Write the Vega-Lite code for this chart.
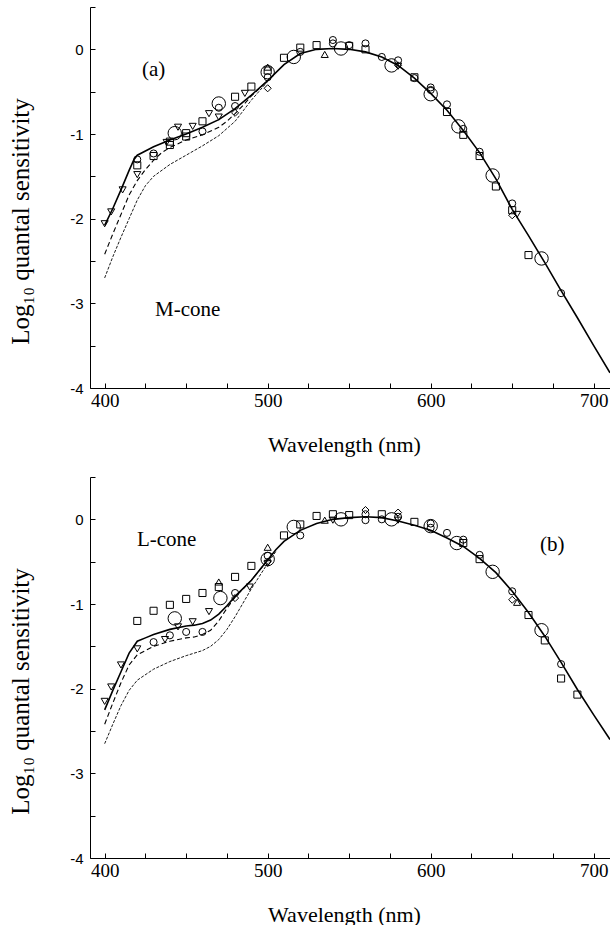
{
  "$schema": "https://vega.github.io/schema/vega-lite/v6.json",
  "padding": {"left": 8, "top": 0, "right": 0, "bottom": 0},
  "bounds": "flush",
  "spacing": 89,
  "background": "white",
  "config": {
    "view": {"stroke": null},
    "font": "Liberation Serif",
    "axis": {
      "grid": false,
      "domainColor": "black",
      "domainWidth": 1,
      "tickColor": "black",
      "tickWidth": 1,
      "labelColor": "black",
      "titleColor": "black",
      "titleFontWeight": "normal",
      "labelFlush": false,
      "labelOverlap": false
    }
  },
  "datasets": {
    "curA": [
      {"wl": 400, "v": -2.08, "c": "solid"}, {"wl": 405, "v": -1.88, "c": "solid"}, {"wl": 410, "v": -1.66, "c": "solid"}, {"wl": 415, "v": -1.43, "c": "solid"}, {"wl": 418, "v": -1.3, "c": "solid"}, {"wl": 420, "v": -1.25, "c": "solid"}, {"wl": 425, "v": -1.2, "c": "solid"}, {"wl": 430, "v": -1.15, "c": "solid"}, {"wl": 440, "v": -1.07, "c": "solid"}, {"wl": 450, "v": -1.0, "c": "solid"}, {"wl": 460, "v": -0.92, "c": "solid"}, {"wl": 470, "v": -0.83, "c": "solid"}, {"wl": 480, "v": -0.7, "c": "solid"}, {"wl": 490, "v": -0.54, "c": "solid"}, {"wl": 500, "v": -0.37, "c": "solid"}, {"wl": 510, "v": -0.18, "c": "solid"}, {"wl": 520, "v": -0.05, "c": "solid"}, {"wl": 530, "v": 0.0, "c": "solid"}, {"wl": 540, "v": 0.01, "c": "solid"}, {"wl": 550, "v": 0.0, "c": "solid"}, {"wl": 560, "v": -0.03, "c": "solid"}, {"wl": 570, "v": -0.09, "c": "solid"}, {"wl": 580, "v": -0.19, "c": "solid"}, {"wl": 590, "v": -0.34, "c": "solid"}, {"wl": 600, "v": -0.52, "c": "solid"}, {"wl": 610, "v": -0.72, "c": "solid"}, {"wl": 620, "v": -0.96, "c": "solid"}, {"wl": 630, "v": -1.22, "c": "solid"}, {"wl": 640, "v": -1.53, "c": "solid"}, {"wl": 650, "v": -1.89, "c": "solid"}, {"wl": 660, "v": -2.2, "c": "solid"}, {"wl": 670, "v": -2.52, "c": "solid"}, {"wl": 680, "v": -2.85, "c": "solid"}, {"wl": 690, "v": -3.17, "c": "solid"}, {"wl": 700, "v": -3.5, "c": "solid"}, {"wl": 710, "v": -3.82, "c": "solid"},
      {"wl": 400, "v": -2.42, "c": "dashed"}, {"wl": 405, "v": -2.18, "c": "dashed"}, {"wl": 410, "v": -1.95, "c": "dashed"}, {"wl": 415, "v": -1.72, "c": "dashed"}, {"wl": 420, "v": -1.55, "c": "dashed"}, {"wl": 425, "v": -1.42, "c": "dashed"}, {"wl": 430, "v": -1.31, "c": "dashed"}, {"wl": 435, "v": -1.22, "c": "dashed"}, {"wl": 440, "v": -1.16, "c": "dashed"}, {"wl": 450, "v": -1.07, "c": "dashed"}, {"wl": 460, "v": -1.01, "c": "dashed"}, {"wl": 470, "v": -0.92, "c": "dashed"}, {"wl": 475, "v": -0.85, "c": "dashed"}, {"wl": 480, "v": -0.76, "c": "dashed"}, {"wl": 485, "v": -0.66, "c": "dashed"}, {"wl": 490, "v": -0.55, "c": "dashed"}, {"wl": 500, "v": -0.37, "c": "dashed"},
      {"wl": 400, "v": -2.7, "c": "dotted"}, {"wl": 405, "v": -2.45, "c": "dotted"}, {"wl": 410, "v": -2.22, "c": "dotted"}, {"wl": 415, "v": -2.0, "c": "dotted"}, {"wl": 420, "v": -1.78, "c": "dotted"}, {"wl": 425, "v": -1.61, "c": "dotted"}, {"wl": 430, "v": -1.5, "c": "dotted"}, {"wl": 440, "v": -1.36, "c": "dotted"}, {"wl": 450, "v": -1.25, "c": "dotted"}, {"wl": 460, "v": -1.14, "c": "dotted"}, {"wl": 470, "v": -1.02, "c": "dotted"}, {"wl": 480, "v": -0.85, "c": "dotted"}, {"wl": 490, "v": -0.6, "c": "dotted"}, {"wl": 500, "v": -0.38, "c": "dotted"}
    ],
    "curB": [
      {"wl": 400, "v": -2.25, "c": "solid"}, {"wl": 405, "v": -2.02, "c": "solid"}, {"wl": 410, "v": -1.8, "c": "solid"}, {"wl": 415, "v": -1.58, "c": "solid"}, {"wl": 420, "v": -1.44, "c": "solid"}, {"wl": 425, "v": -1.4, "c": "solid"}, {"wl": 430, "v": -1.36, "c": "solid"}, {"wl": 440, "v": -1.3, "c": "solid"}, {"wl": 450, "v": -1.26, "c": "solid"}, {"wl": 455, "v": -1.25, "c": "solid"}, {"wl": 460, "v": -1.23, "c": "solid"}, {"wl": 465, "v": -1.19, "c": "solid"}, {"wl": 470, "v": -1.12, "c": "solid"}, {"wl": 475, "v": -1.02, "c": "solid"}, {"wl": 480, "v": -0.91, "c": "solid"}, {"wl": 490, "v": -0.72, "c": "solid"}, {"wl": 500, "v": -0.48, "c": "solid"}, {"wl": 505, "v": -0.36, "c": "solid"}, {"wl": 510, "v": -0.26, "c": "solid"}, {"wl": 520, "v": -0.13, "c": "solid"}, {"wl": 530, "v": -0.05, "c": "solid"}, {"wl": 540, "v": 0.0, "c": "solid"}, {"wl": 550, "v": 0.02, "c": "solid"}, {"wl": 560, "v": 0.03, "c": "solid"}, {"wl": 570, "v": 0.02, "c": "solid"}, {"wl": 580, "v": -0.02, "c": "solid"}, {"wl": 590, "v": -0.07, "c": "solid"}, {"wl": 600, "v": -0.13, "c": "solid"}, {"wl": 610, "v": -0.22, "c": "solid"}, {"wl": 620, "v": -0.32, "c": "solid"}, {"wl": 630, "v": -0.46, "c": "solid"}, {"wl": 640, "v": -0.63, "c": "solid"}, {"wl": 650, "v": -0.85, "c": "solid"}, {"wl": 660, "v": -1.1, "c": "solid"}, {"wl": 670, "v": -1.38, "c": "solid"}, {"wl": 680, "v": -1.69, "c": "solid"}, {"wl": 690, "v": -2.01, "c": "solid"}, {"wl": 700, "v": -2.31, "c": "solid"}, {"wl": 710, "v": -2.6, "c": "solid"},
      {"wl": 400, "v": -2.42, "c": "dashed"}, {"wl": 405, "v": -2.17, "c": "dashed"}, {"wl": 410, "v": -1.93, "c": "dashed"}, {"wl": 415, "v": -1.72, "c": "dashed"}, {"wl": 420, "v": -1.6, "c": "dashed"}, {"wl": 425, "v": -1.55, "c": "dashed"}, {"wl": 430, "v": -1.5, "c": "dashed"}, {"wl": 440, "v": -1.44, "c": "dashed"}, {"wl": 450, "v": -1.4, "c": "dashed"}, {"wl": 455, "v": -1.39, "c": "dashed"}, {"wl": 460, "v": -1.36, "c": "dashed"}, {"wl": 465, "v": -1.31, "c": "dashed"}, {"wl": 470, "v": -1.2, "c": "dashed"}, {"wl": 475, "v": -1.05, "c": "dashed"}, {"wl": 480, "v": -0.92, "c": "dashed"}, {"wl": 490, "v": -0.72, "c": "dashed"}, {"wl": 500, "v": -0.48, "c": "dashed"},
      {"wl": 400, "v": -2.65, "c": "dotted"}, {"wl": 405, "v": -2.42, "c": "dotted"}, {"wl": 410, "v": -2.2, "c": "dotted"}, {"wl": 415, "v": -2.02, "c": "dotted"}, {"wl": 420, "v": -1.9, "c": "dotted"}, {"wl": 430, "v": -1.77, "c": "dotted"}, {"wl": 440, "v": -1.68, "c": "dotted"}, {"wl": 450, "v": -1.61, "c": "dotted"}, {"wl": 460, "v": -1.55, "c": "dotted"}, {"wl": 465, "v": -1.5, "c": "dotted"}, {"wl": 470, "v": -1.42, "c": "dotted"}, {"wl": 475, "v": -1.3, "c": "dotted"}, {"wl": 480, "v": -1.15, "c": "dotted"}, {"wl": 490, "v": -0.82, "c": "dotted"}, {"wl": 500, "v": -0.52, "c": "dotted"}, {"wl": 505, "v": -0.38, "c": "dotted"}
    ],
    "ptsA": [
      {"wl": 400, "v": -2.06, "sym": "td"}, {"wl": 404, "v": -1.92, "sym": "td"}, {"wl": 411, "v": -1.66, "sym": "td"}, {"wl": 420, "v": -1.3, "sym": "o"}, {"wl": 420, "v": -1.37, "sym": "s"}, {"wl": 420, "v": -1.48, "sym": "td"},
      {"wl": 430, "v": -1.23, "sym": "o"}, {"wl": 430, "v": -1.26, "sym": "s"}, {"wl": 438, "v": -1.1, "sym": "td"}, {"wl": 440, "v": -1.09, "sym": "s"}, {"wl": 440, "v": -1.13, "sym": "s"}, {"wl": 443, "v": -0.99, "sym": "O"}, {"wl": 445, "v": -0.92, "sym": "td"},
      {"wl": 450, "v": -1.03, "sym": "s"}, {"wl": 450, "v": -0.99, "sym": "s"}, {"wl": 454, "v": -0.91, "sym": "td"}, {"wl": 460, "v": -0.97, "sym": "o"}, {"wl": 460, "v": -0.85, "sym": "s"}, {"wl": 464, "v": -0.76, "sym": "td"},
      {"wl": 470, "v": -0.64, "sym": "O"}, {"wl": 470, "v": -0.69, "sym": "o"}, {"wl": 470, "v": -0.8, "sym": "td"}, {"wl": 480, "v": -0.56, "sym": "s"}, {"wl": 480, "v": -0.67, "sym": "o"}, {"wl": 480, "v": -0.75, "sym": "d"}, {"wl": 486, "v": -0.52, "sym": "td"}, {"wl": 490, "v": -0.44, "sym": "s"},
      {"wl": 500, "v": -0.21, "sym": "tu"}, {"wl": 500, "v": -0.27, "sym": "O"}, {"wl": 500, "v": -0.25, "sym": "s"}, {"wl": 500, "v": -0.33, "sym": "o"}, {"wl": 500, "v": -0.46, "sym": "d"},
      {"wl": 510, "v": -0.1, "sym": "s"}, {"wl": 516, "v": -0.09, "sym": "O"}, {"wl": 520, "v": 0.02, "sym": "s"}, {"wl": 520, "v": -0.03, "sym": "o"}, {"wl": 530, "v": 0.05, "sym": "s"}, {"wl": 535, "v": -0.06, "sym": "tu"},
      {"wl": 540, "v": 0.11, "sym": "o"}, {"wl": 540, "v": 0.07, "sym": "o"}, {"wl": 545, "v": 0.01, "sym": "O"}, {"wl": 550, "v": 0.05, "sym": "o"}, {"wl": 550, "v": 0.04, "sym": "s"}, {"wl": 560, "v": 0.07, "sym": "o"}, {"wl": 560, "v": 0.0, "sym": "s"},
      {"wl": 570, "v": -0.09, "sym": "o"}, {"wl": 576, "v": -0.19, "sym": "O"}, {"wl": 580, "v": -0.13, "sym": "o"}, {"wl": 580, "v": -0.2, "sym": "td"}, {"wl": 580, "v": -0.19, "sym": "d"}, {"wl": 590, "v": -0.34, "sym": "o"}, {"wl": 590, "v": -0.33, "sym": "s"},
      {"wl": 600, "v": -0.45, "sym": "o"}, {"wl": 600, "v": -0.48, "sym": "o"}, {"wl": 600, "v": -0.53, "sym": "O"}, {"wl": 610, "v": -0.65, "sym": "o"}, {"wl": 610, "v": -0.74, "sym": "s"},
      {"wl": 617, "v": -0.91, "sym": "O"}, {"wl": 620, "v": -0.94, "sym": "o"}, {"wl": 620, "v": -1.01, "sym": "s"}, {"wl": 630, "v": -1.21, "sym": "o"}, {"wl": 630, "v": -1.26, "sym": "s"},
      {"wl": 638, "v": -1.49, "sym": "O"}, {"wl": 640, "v": -1.62, "sym": "s"}, {"wl": 650, "v": -1.82, "sym": "o"}, {"wl": 650, "v": -1.9, "sym": "s"}, {"wl": 653, "v": -1.95, "sym": "td"}, {"wl": 650, "v": -1.96, "sym": "d"},
      {"wl": 660, "v": -2.43, "sym": "s"}, {"wl": 668, "v": -2.47, "sym": "O"}, {"wl": 680, "v": -2.88, "sym": "o"}
    ],
    "ptsB": [
      {"wl": 400, "v": -2.15, "sym": "td"}, {"wl": 404, "v": -1.98, "sym": "td"}, {"wl": 410, "v": -1.72, "sym": "td"}, {"wl": 420, "v": -1.53, "sym": "td"}, {"wl": 420, "v": -1.2, "sym": "s"},
      {"wl": 430, "v": -1.08, "sym": "s"}, {"wl": 430, "v": -1.45, "sym": "o"}, {"wl": 437, "v": -1.42, "sym": "td"}, {"wl": 440, "v": -1.01, "sym": "s"}, {"wl": 440, "v": -1.37, "sym": "o"}, {"wl": 443, "v": -1.17, "sym": "O"}, {"wl": 445, "v": -1.27, "sym": "td"},
      {"wl": 450, "v": -0.94, "sym": "s"}, {"wl": 450, "v": -1.33, "sym": "o"}, {"wl": 454, "v": -1.21, "sym": "td"}, {"wl": 460, "v": -0.87, "sym": "s"}, {"wl": 460, "v": -1.33, "sym": "o"}, {"wl": 464, "v": -1.09, "sym": "td"},
      {"wl": 470, "v": -0.8, "sym": "s"}, {"wl": 470, "v": -0.74, "sym": "tu"}, {"wl": 471, "v": -0.93, "sym": "O"}, {"wl": 480, "v": -0.68, "sym": "s"}, {"wl": 480, "v": -0.87, "sym": "o"}, {"wl": 480, "v": -0.93, "sym": "d"}, {"wl": 489, "v": -0.8, "sym": "td"}, {"wl": 490, "v": -0.55, "sym": "s"},
      {"wl": 500, "v": -0.33, "sym": "tu"}, {"wl": 500, "v": -0.43, "sym": "o"}, {"wl": 500, "v": -0.47, "sym": "O"}, {"wl": 500, "v": -0.5, "sym": "d"}, {"wl": 500, "v": -0.52, "sym": "td"},
      {"wl": 510, "v": -0.19, "sym": "s"}, {"wl": 516, "v": -0.09, "sym": "O"}, {"wl": 520, "v": -0.06, "sym": "s"}, {"wl": 520, "v": -0.19, "sym": "o"}, {"wl": 530, "v": 0.04, "sym": "s"}, {"wl": 535, "v": -0.01, "sym": "tu"},
      {"wl": 540, "v": -0.01, "sym": "td"}, {"wl": 540, "v": 0.06, "sym": "s"}, {"wl": 545, "v": 0.0, "sym": "O"}, {"wl": 550, "v": 0.05, "sym": "s"}, {"wl": 560, "v": 0.11, "sym": "d"}, {"wl": 560, "v": 0.06, "sym": "o"}, {"wl": 560, "v": -0.01, "sym": "o"},
      {"wl": 570, "v": 0.06, "sym": "s"}, {"wl": 570, "v": 0.0, "sym": "o"}, {"wl": 576, "v": 0.0, "sym": "O"}, {"wl": 580, "v": 0.08, "sym": "d"}, {"wl": 580, "v": 0.03, "sym": "o"}, {"wl": 580, "v": -0.01, "sym": "td"}, {"wl": 590, "v": -0.03, "sym": "s"},
      {"wl": 600, "v": -0.05, "sym": "o"}, {"wl": 600, "v": -0.1, "sym": "o"}, {"wl": 600, "v": -0.08, "sym": "O"}, {"wl": 610, "v": -0.16, "sym": "o"}, {"wl": 616, "v": -0.28, "sym": "O"}, {"wl": 620, "v": -0.24, "sym": "o"}, {"wl": 620, "v": -0.28, "sym": "s"},
      {"wl": 630, "v": -0.42, "sym": "o"}, {"wl": 630, "v": -0.47, "sym": "s"}, {"wl": 638, "v": -0.62, "sym": "O"}, {"wl": 650, "v": -0.85, "sym": "o"}, {"wl": 650, "v": -0.95, "sym": "d"}, {"wl": 653, "v": -0.98, "sym": "tu"},
      {"wl": 660, "v": -1.13, "sym": "s"}, {"wl": 668, "v": -1.31, "sym": "O"}, {"wl": 670, "v": -1.43, "sym": "s"}, {"wl": 680, "v": -1.71, "sym": "o"}, {"wl": 680, "v": -1.88, "sym": "s"}, {"wl": 690, "v": -2.07, "sym": "s"}
    ]
  },
  "vconcat": [
    {
      "width": 520,
      "height": 381,
      "encoding": {
        "x": {"field": "wl", "type": "quantitative", "scale": {"domain": [391, 710], "nice": false, "zero": false},
          "axis": {"title": "Wavelength (nm)", "values": [400, 425, 450, 475, 500, 525, 550, 575, 600, 625, 650, 675, 700], "labelExpr": "datum.value % 100 === 0 ? datum.label : ''", "tickSize": -5, "labelPadding": 8, "labelFont": "Liberation Serif", "labelFontSize": 19, "titleFont": "Liberation Serif", "titleFontSize": 22, "titlePadding": 24, "titleX": 254}},
        "y": {"field": "v", "type": "quantitative", "scale": {"domain": [-4, 0.5], "nice": false, "zero": false},
          "axis": {"title": "Log₁₀ quantal sensitivity", "values": [-4, -3.5, -3, -2.5, -2, -1.5, -1, -0.5, 0, 0.5], "labelExpr": "datum.value % 1 === 0 ? toString(datum.value) : ''", "tickSize": -5, "labelPadding": 12, "labelFont": "Liberation Sans", "labelFontSize": 15, "titleFont": "Liberation Serif", "titleFontSize": 25, "titleX": -57, "titleY": 214}}
      },
      "layer": [
        {"data": {"name": "curA"}, "transform": [{"filter": "datum.c === 'solid'"}], "mark": {"type": "line", "clip": true, "color": "black", "strokeWidth": 1.6}},
        {"data": {"name": "curA"}, "transform": [{"filter": "datum.c === 'dashed'"}], "mark": {"type": "line", "clip": true, "color": "black", "strokeWidth": 1.1, "strokeDash": [5, 3]}},
        {"data": {"name": "curA"}, "transform": [{"filter": "datum.c === 'dotted'"}], "mark": {"type": "line", "clip": true, "color": "black", "strokeWidth": 0.9, "strokeDash": [3, 1.5]}},
        {"data": {"name": "ptsA"}, "transform": [{"filter": "datum.sym !== 'O'"}], "mark": {"type": "point", "filled": false, "color": "black", "strokeWidth": 1, "opacity": 1, "size": 50, "clip": true},
          "encoding": {"shape": {"field": "sym", "type": "nominal", "scale": {"domain": ["o", "s", "tu", "td", "d"], "range": ["circle", "square", "triangle-up", "triangle-down", "diamond"]}, "legend": null}}},
        {"data": {"name": "ptsA"}, "transform": [{"filter": "datum.sym === 'O'"}], "mark": {"type": "point", "shape": "circle", "filled": false, "color": "black", "strokeWidth": 1, "opacity": 1, "size": 180, "clip": true}},
        {"data": {"values": [{"wl": 422.9, "v": -0.24, "t": "(a)"}, {"wl": 430.9, "v": -3.08, "t": "M-cone"}]}, "mark": {"type": "text", "align": "left", "baseline": "middle", "font": "Liberation Serif", "fontSize": 21, "color": "black"}, "encoding": {"text": {"field": "t"}}}
      ]
    },
    {
      "width": 520,
      "height": 381,
      "encoding": {
        "x": {"field": "wl", "type": "quantitative", "scale": {"domain": [391, 710], "nice": false, "zero": false},
          "axis": {"title": "Wavelength (nm)", "values": [400, 425, 450, 475, 500, 525, 550, 575, 600, 625, 650, 675, 700], "labelExpr": "datum.value % 100 === 0 ? datum.label : ''", "tickSize": -5, "labelPadding": 8, "labelFont": "Liberation Serif", "labelFontSize": 19, "titleFont": "Liberation Serif", "titleFontSize": 22, "titlePadding": 24, "titleX": 254}},
        "y": {"field": "v", "type": "quantitative", "scale": {"domain": [-4, 0.5], "nice": false, "zero": false},
          "axis": {"title": "Log₁₀ quantal sensitivity", "values": [-4, -3.5, -3, -2.5, -2, -1.5, -1, -0.5, 0, 0.5], "labelExpr": "datum.value % 1 === 0 ? toString(datum.value) : ''", "tickSize": -5, "labelPadding": 12, "labelFont": "Liberation Sans", "labelFontSize": 15, "titleFont": "Liberation Serif", "titleFontSize": 25, "titleX": -57, "titleY": 214}}
      },
      "layer": [
        {"data": {"name": "curB"}, "transform": [{"filter": "datum.c === 'solid'"}], "mark": {"type": "line", "clip": true, "color": "black", "strokeWidth": 1.6}},
        {"data": {"name": "curB"}, "transform": [{"filter": "datum.c === 'dashed'"}], "mark": {"type": "line", "clip": true, "color": "black", "strokeWidth": 1.1, "strokeDash": [5, 3]}},
        {"data": {"name": "curB"}, "transform": [{"filter": "datum.c === 'dotted'"}], "mark": {"type": "line", "clip": true, "color": "black", "strokeWidth": 0.9, "strokeDash": [3, 1.5]}},
        {"data": {"name": "ptsB"}, "transform": [{"filter": "datum.sym !== 'O'"}], "mark": {"type": "point", "filled": false, "color": "black", "strokeWidth": 1, "opacity": 1, "size": 50, "clip": true},
          "encoding": {"shape": {"field": "sym", "type": "nominal", "scale": {"domain": ["o", "s", "tu", "td", "d"], "range": ["circle", "square", "triangle-up", "triangle-down", "diamond"]}, "legend": null}}},
        {"data": {"name": "ptsB"}, "transform": [{"filter": "datum.sym === 'O'"}], "mark": {"type": "point", "shape": "circle", "filled": false, "color": "black", "strokeWidth": 1, "opacity": 1, "size": 180, "clip": true}},
        {"data": {"values": [{"wl": 419.8, "v": -0.24, "t": "L-cone"}, {"wl": 667.1, "v": -0.3, "t": "(b)"}]}, "mark": {"type": "text", "align": "left", "baseline": "middle", "font": "Liberation Serif", "fontSize": 21, "color": "black"}, "encoding": {"text": {"field": "t"}}}
      ]
    }
  ]
}
